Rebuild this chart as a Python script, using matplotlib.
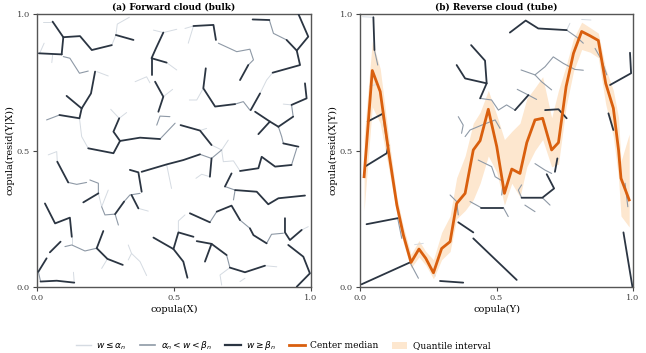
import matplotlib
matplotlib.use("Agg")
import matplotlib.pyplot as plt
from matplotlib.lines import Line2D
from matplotlib.patches import Patch

plt.rcParams['font.family'] = ['DejaVu Serif']

# ---------------- data ----------------
titles = ["(a) Forward cloud (bulk)", "(b) Reverse cloud (tube)"]
xlabels = ["copula(X)", "copula(Y)"]
ylabels = ["copula(resid(Y|X))", "copula(resid(X|Y))"]
tick_vals = [0.0, 0.5, 1.0]
tick_labels = ["0.0", "0.5", "1.0"]

# Forward cloud polylines (x list, y list) by weight class
fwd_dark = [
    ([0.057, 0.096, 0.157, 0.200, 0.273], [0.972, 0.915, 0.919, 0.868, 0.886]),
    ([0.288, 0.352], [0.923, 0.905]),
    ([0.096, 0.090], [0.915, 0.852]),
    ([0.007, 0.090], [0.856, 0.852]),
    ([0.212, 0.197, 0.163, 0.108], [0.789, 0.709, 0.654, 0.700]),
    ([0.163, 0.155, 0.082], [0.654, 0.618, 0.630]),
    ([0.187, 0.279, 0.303, 0.376, 0.449], [0.508, 0.490, 0.535, 0.547, 0.542]),
    ([0.303, 0.279, 0.300], [0.535, 0.569, 0.618]),
    ([0.461, 0.434, 0.418, 0.473], [0.932, 0.874, 0.838, 0.822]),
    ([0.418, 0.418], [0.838, 0.777]),
    ([0.431, 0.461, 0.443], [0.752, 0.697, 0.642]),
    ([0.524, 0.595, 0.637], [0.593, 0.573, 0.520]),
    ([0.571, 0.644, 0.653], [0.956, 0.960, 0.905]),
    ([0.771, 0.741], [0.813, 0.758]),
    ([0.616, 0.607, 0.650, 0.723], [0.801, 0.728, 0.661, 0.670]),
    ([0.787, 0.848], [0.980, 0.978]),
    ([0.911, 0.948, 0.990, 0.954], [0.905, 0.866, 0.917, 1.000]),
    ([0.948, 0.960, 0.860], [0.866, 0.813, 0.785]),
    ([0.814, 0.780], [0.709, 0.648]),
    ([0.978, 0.984, 0.929], [0.746, 0.691, 0.667]),
    ([0.935, 0.881], [0.624, 0.587]),
    ([0.796, 0.850, 0.881], [0.642, 0.606, 0.587]),
    ([0.850, 0.808], [0.606, 0.560]),
    ([0.899, 0.954], [0.526, 0.514]),
    ([0.074, 0.114], [0.459, 0.383]),
    ([0.224, 0.169], [0.343, 0.310]),
    ([0.285, 0.318], [0.267, 0.313]),
    ([0.339, 0.370, 0.382], [0.429, 0.420, 0.349]),
    ([0.345, 0.370], [0.337, 0.288]),
    ([0.382, 0.473, 0.534, 0.595], [0.422, 0.449, 0.465, 0.486]),
    ([0.637, 0.631], [0.471, 0.404]),
    ([0.741, 0.808, 0.820, 0.869, 0.929], [0.425, 0.435, 0.477, 0.441, 0.447]),
    ([0.710, 0.686], [0.416, 0.368]),
    ([0.723, 0.802, 0.844, 0.881, 0.978], [0.355, 0.349, 0.303, 0.325, 0.335]),
    ([0.558, 0.631], [0.270, 0.237]),
    ([0.656, 0.710, 0.741], [0.276, 0.298, 0.245]),
    ([0.777, 0.790, 0.838], [0.215, 0.190, 0.160]),
    ([0.905, 0.905, 0.923, 0.966], [0.252, 0.200, 0.172, 0.209]),
    ([0.917, 0.972, 0.996, 0.948], [0.154, 0.111, 0.050, 0.001]),
    ([0.425, 0.498, 0.516, 0.571], [0.181, 0.139, 0.200, 0.184]),
    ([0.498, 0.534, 0.549], [0.139, 0.093, 0.034]),
    ([0.583, 0.637, 0.692], [0.168, 0.158, 0.117]),
    ([0.637, 0.613], [0.158, 0.093]),
    ([0.704, 0.759, 0.832], [0.071, 0.054, 0.078]),
    ([0.029, 0.066, 0.120, 0.127], [0.306, 0.233, 0.254, 0.184]),
    ([0.218, 0.242], [0.142, 0.205]),
    ([0.218, 0.257, 0.313], [0.142, 0.103, 0.081]),
    ([0.086, 0.047], [0.166, 0.127]),
    ([0.005, 0.035], [0.056, 0.105]),
    ([0.013, 0.072, 0.136], [0.020, 0.023, 0.016]),
]
fwd_mid = [
    ([0.096, 0.120, 0.155, 0.187], [0.844, 0.838, 0.783, 0.791]),
    ([0.035, 0.082], [0.612, 0.630]),
    ([0.449, 0.504], [0.542, 0.600]),
    ([0.437, 0.449, 0.485], [0.593, 0.626, 0.624]),
    ([0.662, 0.729, 0.777, 0.790, 0.771], [0.893, 0.862, 0.871, 0.832, 0.813]),
    ([0.723, 0.753, 0.777], [0.670, 0.679, 0.648]),
    ([0.848, 0.863, 0.911], [0.978, 0.929, 0.905]),
    ([0.929, 0.935], [0.667, 0.624]),
    ([0.881, 0.893, 0.899], [0.587, 0.551, 0.526]),
    ([0.114, 0.145, 0.181], [0.383, 0.376, 0.383]),
    ([0.193, 0.224, 0.224], [0.392, 0.380, 0.343]),
    ([0.236, 0.248, 0.285, 0.297], [0.294, 0.264, 0.267, 0.227]),
    ([0.318, 0.339, 0.376], [0.313, 0.337, 0.343]),
    ([0.595, 0.637, 0.674], [0.486, 0.471, 0.502]),
    ([0.929, 0.948], [0.447, 0.508]),
    ([0.686, 0.723, 0.717], [0.368, 0.355, 0.319]),
    ([0.631, 0.656], [0.237, 0.276]),
    ([0.741, 0.777], [0.245, 0.215]),
    ([0.838, 0.856, 0.899], [0.160, 0.193, 0.197]),
    ([0.692, 0.704], [0.117, 0.071]),
    ([0.102, 0.127, 0.175, 0.218], [0.148, 0.154, 0.132, 0.142]),
    ([0.005, 0.013], [0.056, 0.020]),
]
fwd_light = [
    ([0.273, 0.288], [0.886, 0.923]),
    ([0.023, 0.057], [0.972, 0.972]),
    ([0.288, 0.293, 0.337], [0.923, 0.963, 0.988]),
    ([0.011, 0.026], [0.859, 0.893]),
    ([0.057, 0.054], [0.850, 0.822]),
    ([0.218, 0.260], [0.789, 0.773]),
    ([0.155, 0.163, 0.187], [0.618, 0.551, 0.508]),
    ([0.269, 0.300, 0.327], [0.651, 0.618, 0.639]),
    ([0.425, 0.461, 0.510], [0.941, 0.932, 0.944]),
    ([0.473, 0.510], [0.822, 0.795]),
    ([0.358, 0.400, 0.412], [0.752, 0.770, 0.748]),
    ([0.461, 0.495], [0.697, 0.724]),
    ([0.595, 0.619], [0.573, 0.581]),
    ([0.637, 0.674, 0.698], [0.520, 0.502, 0.538]),
    ([0.540, 0.571, 0.552], [0.947, 0.956, 0.893]),
    ([0.607, 0.583, 0.556], [0.728, 0.685, 0.685]),
    ([0.860, 0.838, 0.814], [0.785, 0.758, 0.709]),
    ([0.899, 0.929], [0.670, 0.667]),
    ([0.041, 0.072, 0.074], [0.484, 0.496, 0.459]),
    ([0.224, 0.236, 0.260], [0.343, 0.294, 0.355]),
    ([0.370, 0.406], [0.288, 0.278]),
    ([0.473, 0.491], [0.449, 0.361]),
    ([0.631, 0.601, 0.580], [0.404, 0.413, 0.398]),
    ([0.674, 0.680, 0.717, 0.741], [0.502, 0.459, 0.462, 0.425]),
    ([0.966, 0.990], [0.209, 0.221]),
    ([0.516, 0.516, 0.540], [0.200, 0.242, 0.264]),
    ([0.832, 0.875], [0.078, 0.074]),
    ([0.704, 0.668, 0.674], [0.071, 0.044, 0.007]),
    ([0.741, 0.759], [0.020, 0.032]),
    ([0.127, 0.127], [0.184, 0.154]),
    ([0.257, 0.236], [0.103, 0.068]),
    ([0.136, 0.133], [0.016, 0.054]),
    ([0.333, 0.345, 0.333], [0.154, 0.123, 0.099]),
    ([0.345, 0.376, 0.400], [0.123, 0.093, 0.042]),
]

# Reverse cloud polylines
rev_dark = [
    ([0.049, 0.053], [0.988, 0.868]),
    ([0.028, 0.082], [0.606, 0.634]),
    ([0.549, 0.607, 0.653, 0.757], [0.932, 0.976, 0.947, 0.941]),
    ([0.407, 0.458, 0.464, 0.385, 0.354], [0.886, 0.829, 0.746, 0.764, 0.813]),
    ([0.464, 0.440], [0.746, 0.691]),
    ([0.568, 0.617], [0.648, 0.703]),
    ([0.678, 0.727, 0.757], [0.648, 0.651, 0.618]),
    ([0.989, 0.993, 0.916], [0.858, 0.783, 0.740]),
    ([0.018, 0.098, 0.104], [0.441, 0.490, 0.520]),
    ([0.024, 0.138], [0.230, 0.252]),
    ([0.006, 0.183], [0.010, 0.090]),
    ([0.360, 0.415], [0.237, 0.200]),
    ([0.415, 0.574], [0.178, 0.026]),
    ([0.293, 0.378], [0.022, 0.016]),
    ([0.965, 0.998], [0.200, 0.000]),
    ([0.443, 0.525], [0.291, 0.291]),
    ([0.592, 0.668, 0.711, 0.684], [0.327, 0.327, 0.361, 0.413]),
    ([0.714, 0.723], [0.422, 0.471]),
    ([0.910, 0.928], [0.636, 0.575]),
]
rev_mid = [
    ([0.053, 0.065], [0.868, 0.813]),
    ([0.082, 0.104], [0.634, 0.490]),
    ([0.757, 0.794, 0.818], [0.941, 0.915, 0.893]),
    ([0.440, 0.482, 0.507, 0.537, 0.568], [0.691, 0.685, 0.648, 0.667, 0.648]),
    ([0.385, 0.403, 0.446, 0.495, 0.513], [0.551, 0.575, 0.593, 0.612, 0.581]),
    ([0.360, 0.378, 0.372], [0.624, 0.593, 0.563]),
    ([0.590, 0.641, 0.678, 0.708, 0.745, 0.787, 0.818],
     [0.795, 0.777, 0.807, 0.843, 0.819, 0.797, 0.794]),
    ([0.641, 0.665, 0.702], [0.777, 0.752, 0.722]),
    ([0.576, 0.617, 0.647], [0.724, 0.703, 0.687]),
    ([0.861, 0.885, 0.904], [0.874, 0.832, 0.777]),
    ([0.138, 0.153], [0.252, 0.178]),
    ([0.183, 0.214], [0.090, 0.032]),
    ([0.403, 0.443], [0.313, 0.291]),
    ([0.525, 0.543], [0.291, 0.258]),
    ([0.592, 0.580, 0.592], [0.327, 0.355, 0.374]),
    ([0.604, 0.641], [0.300, 0.276]),
    ([0.668, 0.696], [0.327, 0.300]),
    ([0.433, 0.482, 0.495, 0.525, 0.519], [0.465, 0.441, 0.404, 0.386, 0.337]),
    ([0.330, 0.354, 0.360], [0.337, 0.313, 0.264]),
    ([0.971, 0.981], [0.380, 0.294]),
    ([0.641, 0.678, 0.702], [0.452, 0.428, 0.416]),
]
rev_light = [
    ([0.009, 0.049], [0.990, 0.988]),
    ([0.757, 0.769], [0.941, 0.966]),
    ([0.812, 0.846], [0.980, 0.978]),
    ([0.200, 0.232], [0.155, 0.160]),
    ([0.268, 0.276], [0.057, 0.040]),
    ([0.035, 0.060], [0.735, 0.742]),
]

# Center median and quantile tube (reverse panel)
tube_x = [0.015, 0.045, 0.074, 0.104, 0.135, 0.159, 0.187, 0.216, 0.241, 0.269,
          0.299, 0.330, 0.354, 0.385, 0.415, 0.440, 0.470, 0.501, 0.529, 0.556,
          0.586, 0.611, 0.641, 0.669, 0.702, 0.727, 0.755, 0.782, 0.812, 0.843,
          0.873, 0.900, 0.928, 0.947, 0.956, 0.986]
median_y = [0.404, 0.793, 0.716, 0.502, 0.300, 0.190, 0.090, 0.139, 0.105, 0.052,
            0.141, 0.166, 0.306, 0.343, 0.502, 0.536, 0.651, 0.514, 0.343, 0.432,
            0.416, 0.529, 0.612, 0.618, 0.502, 0.529, 0.734, 0.856, 0.936, 0.920,
            0.903, 0.746, 0.655, 0.502, 0.398, 0.319]
q_lo = [0.28, 0.66, 0.60, 0.44, 0.27, 0.16, 0.07, 0.11, 0.08, 0.03,
        0.10, 0.13, 0.25, 0.28, 0.32, 0.38, 0.48, 0.42, 0.30, 0.38,
        0.33, 0.44, 0.50, 0.54, 0.44, 0.45, 0.66, 0.79, 0.87, 0.86,
        0.84, 0.67, 0.55, 0.40, 0.26, 0.22]
q_hi = [0.55, 0.90, 0.80, 0.56, 0.33, 0.22, 0.12, 0.17, 0.13, 0.10,
        0.20, 0.26, 0.40, 0.48, 0.60, 0.64, 0.72, 0.63, 0.54, 0.57,
        0.60, 0.69, 0.73, 0.77, 0.62, 0.72, 0.81, 0.91, 0.97, 0.95,
        0.93, 0.80, 0.72, 0.62, 0.46, 0.56]

# ---------------- styles ----------------
C_LIGHT = "#d5dbe2"
C_MID = "#8e99a6"
C_DARK = "#2b3542"
C_MED = "#d95f0e"
C_BAND = "#fde7cf"

fig = plt.figure(figsize=(6.46, 3.53), dpi=100)
axes = [fig.add_axes([37/646, 66/353, 274/646, 273/353]),
        fig.add_axes([360/646, 66/353, 273/646, 273/353])]

def draw_paths(ax, paths, color, lw, z):
    for xs, ys in paths:
        ax.plot(xs, ys, color=color, lw=lw, zorder=z, solid_capstyle='round')

draw_paths(axes[0], fwd_light, C_LIGHT, 0.7, 1)
draw_paths(axes[0], fwd_mid, C_MID, 0.8, 2)
draw_paths(axes[0], fwd_dark, C_DARK, 1.3, 3)

axes[1].fill_between(tube_x, q_lo, q_hi, color=C_BAND, lw=0, zorder=0.5)
draw_paths(axes[1], rev_light, C_LIGHT, 0.7, 1)
draw_paths(axes[1], rev_mid, C_MID, 0.8, 2)
draw_paths(axes[1], rev_dark, C_DARK, 1.3, 3)
axes[1].plot(tube_x, median_y, color=C_MED, lw=2.0, zorder=4)

for i, ax in enumerate(axes):
    ax.set_xlim(0, 1)
    ax.set_ylim(0, 1)
    ax.set_xticks(tick_vals)
    ax.set_yticks(tick_vals)
    ax.set_xticklabels(tick_labels)
    ax.set_yticklabels(tick_labels)
    ax.tick_params(labelsize=6, colors="#444444", length=3, width=0.8, pad=2)
    for s in ax.spines.values():
        s.set_color("#555555")
        s.set_linewidth(1.0)
    ax.set_title(titles[i], fontsize=6.5, fontweight='bold', pad=3.5)
    ax.set_xlabel(xlabels[i], fontsize=7, labelpad=2)
    ax.set_ylabel(ylabels[i], fontsize=7, labelpad=2)

handles = [
    Line2D([0], [0], color=C_LIGHT, lw=1.0),
    Line2D([0], [0], color=C_MID, lw=1.2),
    Line2D([0], [0], color=C_DARK, lw=1.6),
    Line2D([0], [0], color=C_MED, lw=2.0),
    Patch(facecolor=C_BAND, edgecolor='none'),
]
labels = [r"$w \leq \alpha_n$", r"$\alpha_n < w < \beta_n$", r"$w \geq \beta_n$",
          "Center median", "Quantile interval"]
fig.legend(handles, labels, loc='center', bbox_to_anchor=(283/646, 1 - 346/353),
           ncol=5, frameon=False, fontsize=6.5, handlelength=1.7, columnspacing=1.5,
           handletextpad=0.6)

fig.savefig("out.png", dpi=100)
